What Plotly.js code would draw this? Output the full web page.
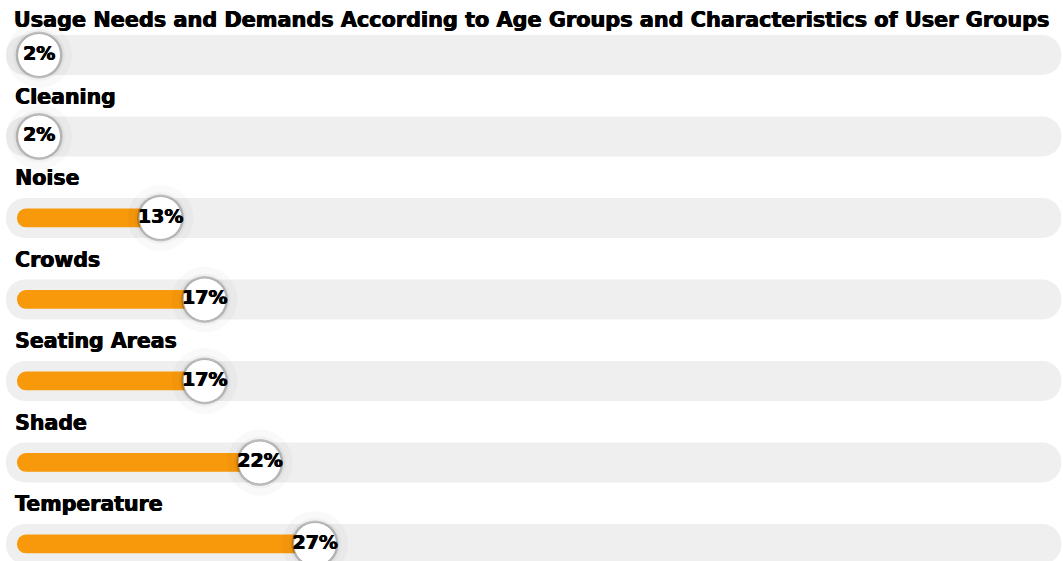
<!DOCTYPE html>
<html>
<head>
<meta charset="utf-8">
<script src="https://cdn.plot.ly/plotly-3.0.1.min.js"></script>
<style>html,body{margin:0;padding:0;background:#fff;}#chart{width:1063px;height:561px;}</style>
</head>
<body>
<div id="chart"></div>
<script>
const titleText = 'Usage Needs and Demands According to Age Groups and Characteristics of User Groups';
const categories = ['', 'Cleaning', 'Noise', 'Crowds', 'Seating Areas', 'Shade', 'Temperature'];
const values = [2, 2, 13, 17, 17, 22, 27];
const valueLabels = ['2%', '2%', '13%', '17%', '17%', '22%', '27%'];

const FONT = '"DejaVu Sans", "Noto Sans", sans-serif';
const HEAVY = '0.6px 0 0 #000, -0.3px 0 0 #000';
const rows = categories.map((c, i) => i);
const orange = '#f8990b';

const traces = [
  { // background tracks
    type: 'bar', orientation: 'h', y: rows, x: rows.map(() => 95.6), base: rows.map(() => -1),
    width: 0.49, marker: { color: '#efefef', cornerradius: '50%' }, hoverinfo: 'skip', showlegend: false
  },
  { // value bars
    type: 'bar', orientation: 'h', y: rows, x: values, base: rows.map(() => 0),
    width: 0.23, marker: { color: orange, cornerradius: '50%' }, hoverinfo: 'skip', showlegend: false
  },
  { // halo
    type: 'scatter', mode: 'markers', y: rows, x: values,
    marker: { size: 66, color: 'rgba(0,0,0,0.025)', line: { width: 0 } }, hoverinfo: 'skip', showlegend: false
  },
  {
    type: 'scatter', mode: 'markers', y: rows, x: values,
    marker: { size: 52, color: 'rgba(0,0,0,0.03)', line: { width: 0 } }, hoverinfo: 'skip', showlegend: false
  },
  {
    type: 'scatter', mode: 'markers', y: rows, x: values,
    marker: { size: 47, color: 'rgba(0,0,0,0.2)', line: { width: 0 } }, hoverinfo: 'skip', showlegend: false
  },
  { // white circle with label
    type: 'scatter', mode: 'markers+text', y: rows, x: values, text: valueLabels,
    textposition: 'middle center',
    textfont: { family: FONT, size: 19, color: '#000', weight: 'bold', shadow: HEAVY },
    marker: { size: 43, color: '#ffffff', line: { width: 1, color: '#b0b0b0' } },
    hoverinfo: 'skip', showlegend: false
  }
];

const annotations = categories.map((c, i) => ({
  xref: 'paper', x: 0.012, xanchor: 'left', yref: 'y', y: i - 0.49, yanchor: 'middle',
  text: c, showarrow: false,
  font: { family: FONT, size: 20.5, color: '#000', weight: 'bold', shadow: HEAVY }
})).filter(a => a.text);

const layout = {
  width: 1063, height: 561,
  margin: { l: 0, r: 0, t: 0, b: 0 },
  paper_bgcolor: '#fff', plot_bgcolor: '#fff',
  barmode: 'overlay',
  title: {
    text: titleText, x: 0.5, xanchor: 'center', xref: 'paper',
    y: 1 - 20 / 561, yref: 'container', yanchor: 'middle',
    font: { family: FONT, size: 20.8, color: '#000', weight: 'bold', shadow: HEAVY }
  },
  xaxis: { range: [-1.54, 94.75], visible: false, fixedrange: true },
  yaxis: { range: [6.209, -0.675], visible: false, fixedrange: true },
  annotations: annotations
};

Plotly.newPlot('chart', traces, layout, { displayModeBar: false, staticPlot: true });
</script>
</body>
</html>
